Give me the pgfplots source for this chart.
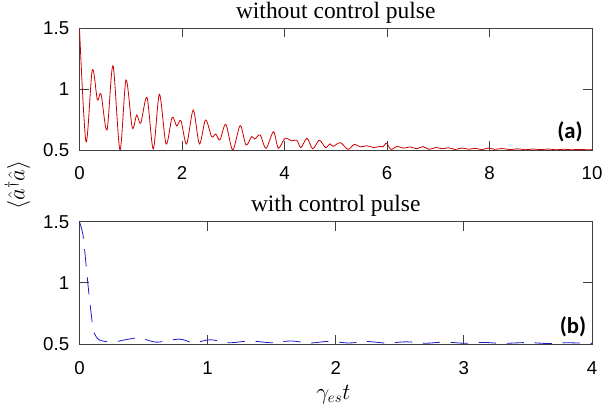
\documentclass[border=0pt]{standalone}
\usepackage{fontspec}
\setmainfont{Liberation Serif}
\newfontfamily\arial{Liberation Sans}
\newfontfamily\calib{Carlito}
\usepackage{pgfplots}
\pgfplotsset{compat=1.18}
\definecolor{mred}{HTML}{CC0000}
\definecolor{mblue}{HTML}{1A1ACC}
\definecolor{axgray}{HTML}{404040}

\pgfplotsset{
  panel/.style={
    scale only axis, width=384.4pt,
    axis line style={axgray, line width=0.6pt},
    tick style={axgray, line width=0.6pt},
    tick align=inside, major tick length=7pt,
    ymin=0.5, ymax=1.5, ytick={0.5,1,1.5},
    ticklabel style={font=\arial\fontsize{14}{16}\selectfont},
    /pgf/number format/assume math mode=true,
    yticklabel style={anchor=east, inner sep=0pt, xshift=-7.5pt},
    clip=true,
  },
}

\begin{document}
\begin{tikzpicture}
\path[use as bounding box] (0,0) rectangle (452.25pt,312pt);

% (a) without control pulse
\begin{axis}[panel, at={(59.6pt,199.5pt)}, anchor=south west, height=91.5pt,
  xmin=0, xmax=10, xtick={0,2,4,6,8,10},
  xticklabel style={anchor=base, yshift=-22.5pt}]
\addplot[mred, line width=0.6pt, smooth, tension=0.5] coordinates {
(0,1.5) (0.127,0.568) (0.25,1.156) (0.35,0.91) (0.42,0.96) (0.537,0.664)
(0.654,1.19) (0.79,0.5) (0.908,1.074) (1.03,0.683) (1.117,0.787) (1.195,0.719)
(1.318,0.93) (1.44,0.508) (1.56,0.957) (1.69,0.549) (1.807,0.768) (1.898,0.697)
(1.98,0.74) (2.09,0.549) (2.22,0.828) (2.34,0.549) (2.46,0.746) (2.58,0.609)
(2.66,0.631) (2.74,0.582) (2.855,0.71) (2.99,0.5) (3.135,0.7) (3.25,0.541)
(3.36,0.61) (3.42,0.59) (3.525,0.623) (3.64,0.514) (3.786,0.65) (3.88,0.514)
(4.01,0.596) (4.14,0.575) (4.24,0.58) (4.32,0.52) (4.44,0.596) (4.55,0.51)
(4.68,0.58) (4.8,0.52) (4.89,0.55) (4.95,0.53) (5.09,0.56) (5.24,0.505)
(5.36,0.545) (5.49,0.525) (5.6,0.535) (5.74,0.52) (5.87,0.53) (5.92,0.525)
(5.99,0.555) (6.08,0.505) (6.2,0.53) (6.32,0.515) (6.45,0.525) (6.58,0.51)
(6.7,0.528) (6.82,0.505) (6.95,0.52) (7.08,0.51) (7.2,0.518) (7.33,0.504)
(7.46,0.516) (7.6,0.506) (7.72,0.514) (7.85,0.503) (7.98,0.516) (8.1,0.505)
(8.25,0.512) (8.4,0.503) (8.55,0.51) (8.7,0.502) (8.85,0.508) (9.0,0.503)
(9.15,0.508) (9.3,0.502) (9.45,0.506) (9.6,0.502) (9.75,0.505) (9.9,0.502)
(10,0.503)};
\node[font=\calib\bfseries\fontsize{17}{19}\selectfont] at (rel axis cs:0.957,0.15) {(a)};
\end{axis}

% (b) with control pulse
\begin{axis}[panel, at={(59.6pt,54pt)}, anchor=south west, height=91.7pt,
  xmin=0, xmax=4, xtick={0,1,2,3,4},
  xticklabel style={anchor=base, yshift=-23pt}]
\addplot[mblue, line width=0.6pt, smooth, tension=0.5, dash pattern=on 13pt off 8pt] coordinates {
(0,1.5) (0.026,1.40) (0.045,1.22) (0.065,1.0) (0.09,0.76) (0.11,0.61)
(0.14,0.545) (0.18,0.525) (0.26,0.515) (0.36,0.535) (0.47,0.55) (0.6,0.515)
(0.78,0.54) (0.89,0.51) (1.02,0.535) (1.17,0.51) (1.33,0.525) (1.5,0.51)
(1.65,0.525) (1.8,0.508) (1.95,0.522) (2.1,0.508) (2.25,0.52) (2.4,0.507)
(2.55,0.518) (2.7,0.506) (2.85,0.516) (3.0,0.506) (3.15,0.513) (3.3,0.505)
(3.5,0.512) (3.65,0.504) (3.8,0.51) (4.0,0.505)};
\node[font=\calib\bfseries\fontsize{17}{19}\selectfont] at (rel axis cs:0.963,0.141) {(b)};
\end{axis}

\node[anchor=base, inner sep=0pt, font=\fontsize{17.6}{20}\selectfont] at (251.8pt,297.8pt) {without control pulse};
\node[anchor=base, inner sep=0pt, font=\fontsize{17.6}{20}\selectfont] at (251.8pt,153.2pt) {with control pulse};
\node[rotate=90, font=\fontsize{17}{19}\selectfont] at (13.1pt,173.25pt)
  {$\langle \hat{a}^{\dagger}\hat{a} \rangle$};
\node[font=\fontsize{16}{18}\selectfont] at (250pt,16pt) {$\gamma_{es}t$};
\end{tikzpicture}
\end{document}
